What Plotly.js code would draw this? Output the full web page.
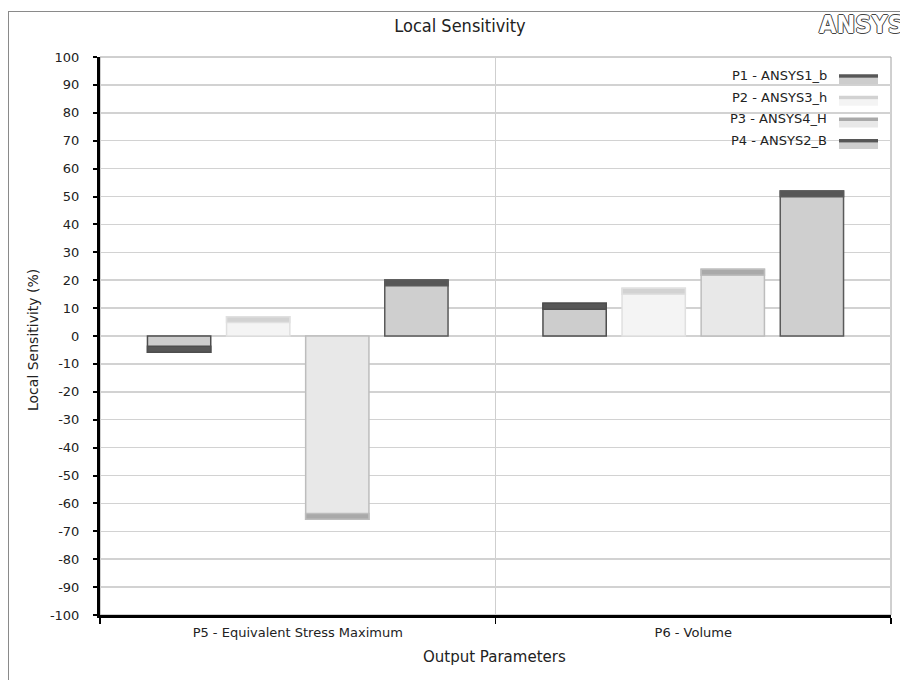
<!DOCTYPE html>
<html><head><meta charset="utf-8">
<script src="https://cdn.plot.ly/plotly-3.0.1.min.js"></script>
<style>
html,body{margin:0;padding:0;background:#fff;overflow:hidden}
#chart{width:900px;height:680px}
#frame{position:absolute;left:8px;top:11px;width:1000px;height:1000px;border:1px solid #8a8a8a;pointer-events:none}
</style></head>
<body><div id="chart"></div><div id="frame"></div>
<script>
// ---- data ----
const categories = ['P5 - Equivalent Stress Maximum', 'P6 - Volume'];
const seriesNames = ['P1 - ANSYS1_b', 'P2 - ANSYS3_h', 'P3 - ANSYS4_H', 'P4 - ANSYS2_B'];
const p1 = [-5.8, 11.7];
const p2 = [6.9, 17.1];
const p3 = [-65.7, 23.9];
const p4 = [20.1, 52.0];
const yTickVals = [-100,-90,-80,-70,-60,-50,-40,-30,-20,-10,0,10,20,30,40,50,60,70,80,90,100];
const yTickText = ['-100','-90','-80','-70','-60','-50','-40','-30','-20','-10','0','10','20','30','40','50','60','70','80','90','100'];
const titleText = 'Local Sensitivity';
const xTitleText = 'Output Parameters';
const yTitleText = 'Local Sensitivity (%)';

// ---- styles ----
const series = [p1, p2, p3, p4];
const bodyColors = ['#cdcdcd', '#f4f4f4', '#e8e8e8', '#cfcfcf'];
const capColors = ['#575757', '#d2d2d2', '#a9a9a9', '#575757'];
const borderColors = ['#4e4e4e', '#e0e0e0', '#bdbdbd', '#5a5a5a'];
const CAP = 2.1;
const FONT = 'DejaVu Sans';
const CFONT = 'DejaVu Sans Condensed, DejaVu Sans';

const traces = [];
series.forEach((vals, i) => {
  traces.push({
    type: 'bar', x: categories, y: vals, offsetgroup: String(i), name: seriesNames[i],
    marker: {color: bodyColors[i], line: {color: borderColors[i], width: 1.5}},
    showlegend: false, hoverinfo: 'x+y'
  });
  traces.push({
    type: 'bar', x: categories,
    y: vals.map(v => Math.sign(v) * CAP),
    base: vals.map(v => v - Math.sign(v) * CAP),
    offsetgroup: String(i), name: seriesNames[i],
    marker: {color: capColors[i], line: {color: borderColors[i], width: 1.5}},
    showlegend: false, hoverinfo: 'skip'
  });
});

// custom legend (text left of swatch)
const W = 791, H = 558; // plot area px
const px = x => (x - 100) / W;
const py = y => (615 - y) / H;
const shapes = [{type: 'rect', xref: 'paper', yref: 'paper', x0: 0, x1: 1, y0: 0, y1: 1,
  line: {color: '#a0a0a0', width: 1}, layer: 'below'}];
const annotations = [];
seriesNames.forEach((nm, i) => {
  const yc = 75.7 + i * 21.6;
  annotations.push({xref: 'paper', yref: 'paper', x: px(829), y: py(yc), xanchor: 'right', yanchor: 'middle',
    text: nm, showarrow: false, font: {family: FONT, size: 13, color: '#222'}});
  shapes.push({type: 'rect', xref: 'paper', yref: 'paper', x0: px(839), x1: px(878), y0: py(yc + 2), y1: py(yc + 8.5),
    line: {width: 0}, fillcolor: bodyColors[i]});
  shapes.push({type: 'rect', xref: 'paper', yref: 'paper', x0: px(839), x1: px(878), y0: py(yc - 1.5), y1: py(yc + 2),
    line: {width: 0}, fillcolor: capColors[i]});
});
annotations.push({xref: 'paper', yref: 'paper', x: px(33), y: py(340), textangle: -90, xanchor: 'center', yanchor: 'middle',
  text: yTitleText, showarrow: false, font: {family: FONT, size: 14, color: '#222'}});
annotations.push({xref: 'paper', yref: 'paper', x: px(494), y: py(657), xanchor: 'center', yanchor: 'middle',
  text: xTitleText, showarrow: false, font: {family: FONT, size: 15, color: '#222'}});
annotations.push({xref: 'paper', yref: 'paper', x: px(817), y: py(25), xanchor: 'left', yanchor: 'middle',
  text: '<b>ANSYS</b>', showarrow: false,
  font: {family: CFONT, size: 25, color: '#ffffff', shadow: '1px 0 0 #444, -1px 0 0 #444, 0 1px 0 #444, 0 -1px 0 #444'}});

const layout = {
  width: 900, height: 680,
  margin: {l: 100, r: 9, t: 57, b: 65},
  paper_bgcolor: 'rgba(0,0,0,0)', plot_bgcolor: '#ffffff',
  barmode: 'group', bargap: 0.2, bargroupgap: 0.2,
  title: {text: titleText, x: 460 / 900, xanchor: 'center', xref: 'container', y: 1 - 26 / 680, yanchor: 'middle', yref: 'container',
    font: {family: CFONT, size: 18, color: '#222'}},
  xaxis: {type: 'category', range: [-0.5, 1.5], tickson: 'boundaries', ticks: 'outside', ticklen: 6, tickwidth: 1.5,
    tickcolor: '#000', showgrid: true, gridcolor: '#cfcfcf', gridwidth: 1, showline: true, linecolor: '#000', linewidth: 3,
    zeroline: false, tickfont: {family: FONT, size: 13, color: '#222'}, ticklabelstandoff: 3, fixedrange: true},
  yaxis: {range: [-100, 100], tickvals: yTickVals, ticktext: yTickText, ticks: 'outside', ticklen: 4, tickwidth: 2, tickcolor: '#000',
    showgrid: true, gridcolor: '#d2d2d2', gridwidth: 1.5, zeroline: false, showline: true, linecolor: '#000', linewidth: 3,
    tickfont: {family: FONT, size: 13, color: '#222'}, ticklabelstandoff: 11, fixedrange: true},
  shapes: shapes, annotations: annotations, showlegend: false
};
Plotly.newPlot('chart', traces, layout, {displayModeBar: false, staticPlot: true});
</script>
</body></html>
